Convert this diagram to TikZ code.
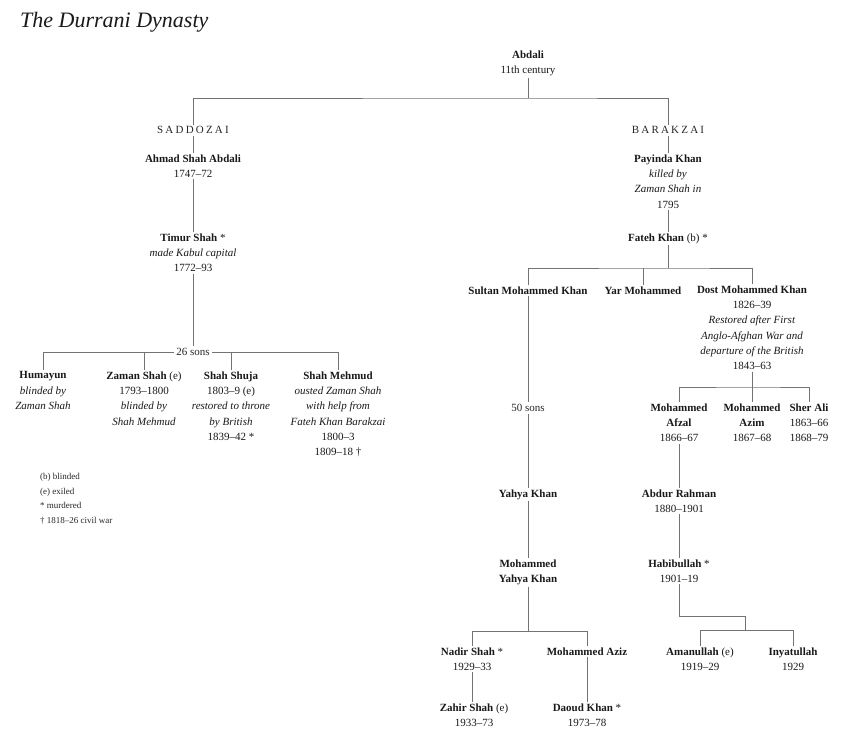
\documentclass[tikz,border=0pt]{standalone}
\usepackage{fontspec}
\setmainfont{Liberation Serif}
\usepackage{tikz}

\begin{document}
\begin{tikzpicture}[x=1pt, y=-1pt]
  \tikzstyle{link} = [draw, black!55, line width = 0.6pt]
  \tikzstyle{person} = [anchor=north, align=center, inner sep=1.5pt, text=black!90, font=\fontsize{11}{15.3}\selectfont]
  \tikzstyle{house} = [anchor=north, inner sep=1.5pt, text=black!85, font=\fontsize{11}{15.3}\selectfont\addfontfeatures{LetterSpace=20}]
  \tikzstyle{sons} = [anchor=center, inner sep=2pt, text=black!85, font=\fontsize{11}{15.3}\selectfont]
  \useasboundingbox (0,0) rectangle (852,740);

  \node[anchor=base west, inner sep=0pt, text=black!90, font=\fontsize{22}{26}\selectfont\itshape] (title) at (20,27) {The Durrani Dynasty};

  \node[person] (abdali) at (528,49) {\textbf{Abdali}\\11th century};
  \node[house] (saddozai) at (193,125) {SADDOZAI};
  \node[house] (barakzai) at (668,125) {BARAKZAI};

  \node[person] (ahmad) at (193,153) {\textbf{Ahmad Shah Abdali}\\1747--72};
  \node[person] (timur) at (193,232) {\textbf{Timur Shah} *\\\textit{made Kabul capital}\\1772--93};
  \node[sons] (sons26) at (193,352) {26 sons};
  \node[person] (humayun) at (43,370) {\textbf{Humayun}\\\textit{blinded by}\\\textit{Zaman Shah}};
  \node[person] (zaman) at (144,370) {\textbf{Zaman Shah} (e)\\1793--1800\\\textit{blinded by}\\\textit{Shah Mehmud}};
  \node[person] (shuja) at (231,370) {\textbf{Shah Shuja}\\1803--9 (e)\\\textit{restored to throne}\\\textit{by British}\\1839--42 *};
  \node[person] (mehmud) at (338,370) {\textbf{Shah Mehmud}\\\textit{ousted Zaman Shah}\\\textit{with help from}\\\textit{Fateh Khan Barakzai}\\1800--3\\1809--18 †};
  \node[anchor=north west, align=left, inner sep=0pt, text=black!85, font=\fontsize{9}{14.7}\selectfont] (legend) at (40,473)
    {(b) blinded\\(e) exiled\\* murdered\\† 1818--26 civil war};

  \node[person] (payinda) at (668,153) {\textbf{Payinda Khan}\\\textit{killed by}\\\textit{Zaman Shah in}\\1795};
  \node[person] (fateh) at (668,232) {\textbf{Fateh Khan} (b) *};
  \node[person] (sultan) at (528,285) {\textbf{Sultan Mohammed Khan}};
  \node[person] (yar) at (643,285) {\textbf{Yar Mohammed}};
  \node[person] (dost) at (752,284) {\textbf{Dost Mohammed Khan}\\1826--39\\\textit{Restored after First}\\\textit{Anglo-Afghan War and}\\\textit{departure of the British}\\1843--63};
  \node[sons] (sons50) at (528,408) {50 sons};
  \node[person] (afzal) at (679,402) {\textbf{Mohammed}\\\textbf{Afzal}\\1866--67};
  \node[person] (azim) at (752,402) {\textbf{Mohammed}\\\textbf{Azim}\\1867--68};
  \node[person] (sherali) at (809,402) {\textbf{Sher Ali}\\1863--66\\1868--79};
  \node[person] (yahya) at (528,488) {\textbf{Yahya Khan}};
  \node[person] (abdur) at (679,488) {\textbf{Abdur Rahman}\\1880--1901};
  \node[person] (myahya) at (528,558) {\textbf{Mohammed}\\\textbf{Yahya Khan}};
  \node[person] (habib) at (679,558) {\textbf{Habibullah} *\\1901--19};
  \node[person] (nadir) at (472,646) {\textbf{Nadir Shah} *\\1929--33};
  \node[person] (aziz) at (587,646) {\textbf{Mohammed Aziz}};
  \node[person] (aman) at (700,646) {\textbf{Amanullah} (e)\\1919--29};
  \node[person] (inyat) at (793,646) {\textbf{Inyatullah}\\1929};
  \node[person] (zahir) at (474,702) {\textbf{Zahir Shah} (e)\\1933--73};
  \node[person] (daoud) at (587,702) {\textbf{Daoud Khan} *\\1973--78};

  \coordinate (topbar) at (528,98);
  \coordinate (fbar) at (668,268);
  \coordinate (dbar) at (752,387);
  \coordinate (mbar) at (528,631);
  \coordinate (hbend) at (745,616);
  \coordinate (hbar) at (745,630);

  \path [link] (abdali.south) -- (topbar);
  \path [link] (saddozai.north) |- (topbar) -| (barakzai.north);
  \path [link] (saddozai) -- (ahmad);
  \path [link] (ahmad) -- (timur);
  \path [link] (timur) -- (sons26);
  \path [link] (humayun.north) |- (sons26.west);
  \path [link] (sons26.east) -| (mehmud.north);
  \path [link] (zaman.north) -- (zaman.north |- sons26);
  \path [link] (shuja.north) -- (shuja.north |- sons26);

  \path [link] (barakzai) -- (payinda);
  \path [link] (payinda) -- (fateh);
  \path [link] (fateh.south) -- (fbar);
  \path [link] (sultan.north) |- (fbar) -| (dost.north);
  \path [link] (yar.north) -- (yar.north |- fbar);
  \path [link] (sultan) -- (sons50);
  \path [link] (sons50) -- (yahya);
  \path [link] (yahya) -- (myahya);
  \path [link] (myahya.south) -- (mbar);
  \path [link] (nadir.north) |- (mbar) -| (aziz.north);
  \path [link] (nadir.south) -- (nadir.south |- zahir.north);
  \path [link] (aziz) -- (daoud);

  \path [link] (dost.south) -- (dbar);
  \path [link] (afzal.north) |- (dbar) -| (sherali.north);
  \path [link] (azim.north) -- (azim.north |- dbar);
  \path [link] (afzal) -- (abdur);
  \path [link] (abdur) -- (habib);
  \path [link] (habib.south) |- (hbend) -- (hbar);
  \path [link] (aman.north) |- (hbar) -| (inyat.north);

\end{tikzpicture}
\end{document}
